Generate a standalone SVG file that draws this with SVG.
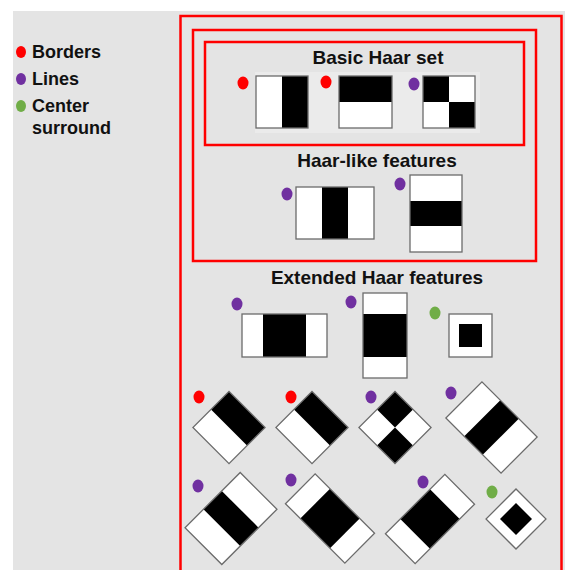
<svg xmlns="http://www.w3.org/2000/svg" width="565" height="570" viewBox="0 0 565 570">
<defs>
<style>
.bg{fill:#e4e4e4}
.frame{fill:none;stroke:#ff0000;stroke-width:2.5}
.w{fill:#ffffff}
.k{fill:#000000}
.o{fill:none;stroke:#6b6b6b;stroke-width:1.3}
.red{fill:#ff0000}
.pur{fill:#7030a0}
.grn{fill:#70ad47}
.t{font-family:"Liberation Sans",Arial,sans-serif;font-weight:bold;fill:#111111}
.title{font-size:19px;text-anchor:middle}
.leg{font-size:18px}
</style>
</defs>
<rect x="0" y="0" width="565" height="570" fill="#ffffff"/>
<rect class="bg" x="13" y="11" width="552" height="559"/>

<g id="legend">
<ellipse class="red" cx="21" cy="52" rx="5" ry="6"/>
<text class="t leg" x="32" y="58">Borders</text>
<ellipse class="pur" cx="21" cy="79" rx="5" ry="6"/>
<text class="t leg" x="32" y="85">Lines</text>
<ellipse class="grn" cx="21" cy="106" rx="5" ry="6"/>
<text class="t leg" x="32" y="112">Center</text>
<text class="t leg" x="32" y="134">surround</text>
</g>

<g id="frames">
<rect class="frame" x="180.5" y="16" width="381" height="570"/>
<rect class="frame" x="193" y="30" width="343" height="231"/>
<rect class="frame" x="205" y="42" width="319" height="103"/>
</g>

<g id="basic-set">
<rect x="255" y="72" width="225" height="61" fill="#ebebeb"/>
<text class="t title" x="378" y="64">Basic Haar set</text>
<g id="basic-1">
<ellipse class="red" cx="243" cy="83" rx="5.5" ry="6.5"/>
<rect class="w" x="256" y="76" width="52" height="52"/>
<rect class="k" x="282" y="76" width="26" height="52"/>
<rect class="o" x="256" y="76" width="52" height="52"/>
</g>
<g id="basic-2">
<ellipse class="red" cx="326" cy="82" rx="5.5" ry="6.5"/>
<rect class="w" x="339" y="76" width="53" height="52"/>
<rect class="k" x="339" y="76" width="53" height="26"/>
<rect class="o" x="339" y="76" width="53" height="52"/>
</g>
<g id="basic-3">
<ellipse class="pur" cx="414" cy="84" rx="5.5" ry="6.5"/>
<rect class="w" x="423" y="76" width="52" height="52"/>
<rect class="k" x="423" y="76" width="26" height="26"/>
<rect class="k" x="449" y="102" width="26" height="26"/>
<rect class="o" x="423" y="76" width="52" height="52"/>
</g>
</g>

<g id="haar-like">
<text class="t title" x="377" y="167">Haar-like features</text>
<g id="line-v">
<ellipse class="pur" cx="287" cy="194" rx="5.5" ry="6.5"/>
<rect class="w" x="296" y="187" width="78" height="52"/>
<rect class="k" x="322" y="187" width="26" height="52"/>
<rect class="o" x="296" y="187" width="78" height="52"/>
</g>
<g id="line-h">
<ellipse class="pur" cx="400" cy="184" rx="5.5" ry="6.5"/>
<rect class="w" x="410" y="175" width="52" height="77"/>
<rect class="k" x="410" y="201" width="52" height="25"/>
<rect class="o" x="410" y="175" width="52" height="77"/>
</g>
</g>

<g id="extended">
<text class="t title" x="377" y="284">Extended Haar features</text>
<g id="ext-line-v">
<ellipse class="pur" cx="237" cy="304" rx="5.5" ry="6.5"/>
<rect class="w" x="242" y="314" width="85" height="43"/>
<rect class="k" x="263" y="314" width="43" height="43"/>
<rect class="o" x="242" y="314" width="85" height="43"/>
</g>
<g id="ext-line-h">
<ellipse class="pur" cx="351" cy="302" rx="5.5" ry="6.5"/>
<rect class="w" x="363" y="293" width="44" height="85"/>
<rect class="k" x="363" y="314" width="44" height="43"/>
<rect class="o" x="363" y="293" width="44" height="85"/>
</g>
<g id="ext-center">
<ellipse class="grn" cx="435" cy="313" rx="5.5" ry="6.5"/>
<rect class="w" x="449" y="314" width="43" height="43"/>
<rect class="k" x="459" y="324" width="23" height="23"/>
<rect class="o" x="449" y="314" width="43" height="43"/>
</g>

<g id="rot-border-1">
<ellipse class="red" cx="199" cy="397" rx="5.5" ry="6.5"/>
<g transform="translate(229,427.5) rotate(45)">
<rect class="w" x="-25.5" y="-25.5" width="51" height="51"/>
<rect class="k" x="-25.5" y="-25.5" width="51" height="25.5"/>
<rect class="o" x="-25.5" y="-25.5" width="51" height="51"/>
</g>
</g>
<g id="rot-border-2">
<ellipse class="red" cx="291" cy="397" rx="5.5" ry="6.5"/>
<g transform="translate(312,427.5) rotate(45)">
<rect class="w" x="-25.5" y="-25.5" width="51" height="51"/>
<rect class="k" x="-25.5" y="-25.5" width="51" height="25.5"/>
<rect class="o" x="-25.5" y="-25.5" width="51" height="51"/>
</g>
</g>
<g id="rot-checker">
<ellipse class="pur" cx="371" cy="397" rx="5.5" ry="6.5"/>
<g transform="translate(395,427.5) rotate(45)">
<rect class="w" x="-25.5" y="-25.5" width="51" height="51"/>
<rect class="k" x="-25.5" y="-25.5" width="25.5" height="25.5"/>
<rect class="k" x="0" y="0" width="25.5" height="25.5"/>
<rect class="o" x="-25.5" y="-25.5" width="51" height="51"/>
</g>
</g>
<g id="rot-line-1">
<ellipse class="pur" cx="451" cy="393" rx="5.5" ry="6.5"/>
<g transform="translate(491.5,427.5) rotate(45)">
<rect class="w" x="-39" y="-25.5" width="78" height="51"/>
<rect class="k" x="-13" y="-25.5" width="26" height="51"/>
<rect class="o" x="-39" y="-25.5" width="78" height="51"/>
</g>
</g>

<g id="rot-line-2">
<ellipse class="pur" cx="198" cy="486" rx="5.5" ry="6.5"/>
<g transform="translate(231,518.5) rotate(45)">
<rect class="w" x="-26" y="-39" width="52" height="78"/>
<rect class="k" x="-26" y="-13" width="52" height="26"/>
<rect class="o" x="-26" y="-39" width="52" height="78"/>
</g>
</g>
<g id="rot-line-3">
<ellipse class="pur" cx="291" cy="480" rx="5.5" ry="6.5"/>
<g transform="translate(330,518.5) rotate(45)">
<rect class="w" x="-42" y="-21" width="84" height="42"/>
<rect class="k" x="-21" y="-21" width="42" height="42"/>
<rect class="o" x="-42" y="-21" width="84" height="42"/>
</g>
</g>
<g id="rot-line-4">
<ellipse class="pur" cx="423" cy="482" rx="5.5" ry="6.5"/>
<g transform="translate(430,519) rotate(45)">
<rect class="w" x="-21" y="-42" width="42" height="84"/>
<rect class="k" x="-21" y="-21" width="42" height="42"/>
<rect class="o" x="-21" y="-42" width="42" height="84"/>
</g>
</g>
<g id="rot-center">
<ellipse class="grn" cx="492" cy="492" rx="5.5" ry="6.5"/>
<g transform="translate(516,519) rotate(45)">
<rect class="w" x="-21.2" y="-21.2" width="42.4" height="42.4"/>
<rect class="k" x="-11.3" y="-11.3" width="22.6" height="22.6"/>
<rect class="o" x="-21.2" y="-21.2" width="42.4" height="42.4"/>
</g>
</g>
</g>
</svg>
